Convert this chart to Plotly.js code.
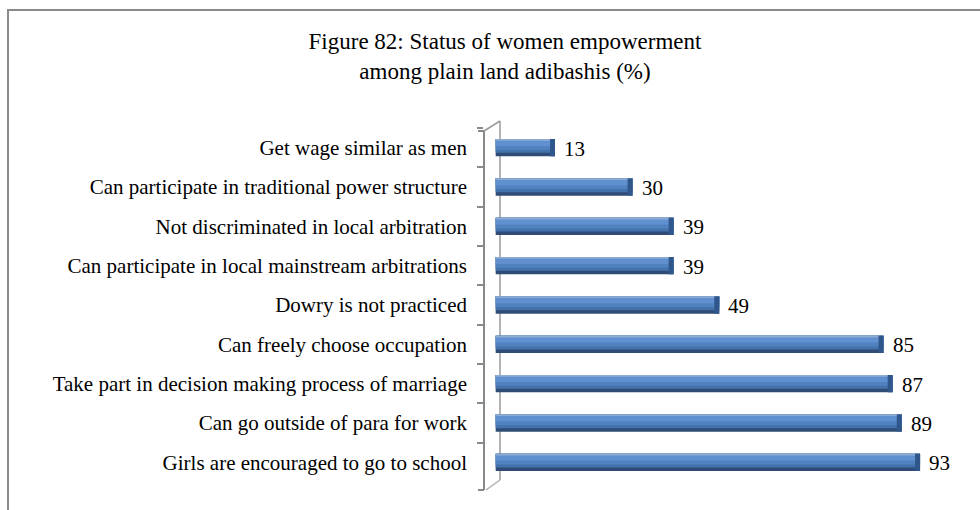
<!DOCTYPE html>
<html>
<head>
<meta charset="utf-8">
<script src="https://cdn.plot.ly/plotly-3.0.1.min.js"></script>
<style>
  html, body { margin: 0; padding: 0; background: #ffffff; }
  #chart { width: 980px; height: 510px; }
</style>
</head>
<body>
<div id="chart"></div>
<script>
// ---- data ----
const categories = [
  "Get wage similar as men",
  "Can participate in traditional power structure",
  "Not discriminated in local arbitration",
  "Can participate in local mainstream arbitrations",
  "Dowry is not practiced",
  "Can freely choose occupation",
  "Take part in decision making process of marriage",
  "Can go outside of para for work",
  "Girls are encouraged to go to school"
];
const values = [13, 30, 39, 39, 49, 85, 87, 89, 93];
const valueLabels = ["13", "30", "39", "39", "49", "85", "87", "89", "93"];
const titleText = "Figure 82: Status of women empowerment<br>among plain land adibashis (%)";

// ---- geometry (pixels) ----
const W = 980, H = 510;
const L = 484, R = 28, T = 128, B = 28;
const PW = W - L - R, PH = H - T - B;
const px = x => (x - L) / PW;          // pixel -> paper x
const py = y => (H - B - y) / PH;      // pixel -> paper y

const font = "'Liberation Serif', 'Times New Roman', Times, serif";
const barW = 0.44, top0 = -barW / 2;
const capLen = 1.1;

function layer(color, off, w, xs, base) {
  const t = {
    type: "bar", orientation: "h",
    y: categories, x: xs,
    marker: { color: color, line: { width: 0 } },
    offset: off, width: w,
    hoverinfo: "skip", showlegend: false
  };
  if (base) t.base = base;
  return t;
}

const traces = [
  layer("#2e4c76", top0, barW, values),
  layer("#4472ad", top0, barW * 0.80, values),
  layer("#5082c0", top0, barW * 0.62, values),
  layer("#6090cf", top0, barW * 0.40, values),
  layer("#8eabd3", top0, barW * 0.10, values),
  layer("#2f578c", top0, barW, values.map(v => capLen), values.map(v => v - capLen))
];

const annotations = categories.map((c, i) => ({
  x: values[i], y: c, xref: "x", yref: "y",
  text: valueLabels[i], showarrow: false,
  xanchor: "left", yanchor: "middle", xshift: 7, yshift: -1,
  font: { family: font, size: 21, color: "#000000" }
}));

const grey = "#8a8a8a";
const shapes = [
  // chart border (left + top visible)
  { type: "rect", xref: "paper", yref: "paper",
    x0: px(8), x1: px(1000), y0: py(10), y1: py(530),
    line: { color: grey, width: 2 }, fillcolor: "rgba(0,0,0,0)", layer: "below" },
  // front wall line
  { type: "line", xref: "paper", yref: "paper",
    x0: px(484), x1: px(484), y0: py(131), y1: py(490),
    line: { color: grey, width: 2 } },
  // top horizontal bracket
  { type: "line", xref: "paper", yref: "paper",
    x0: px(478), x1: px(484), y0: py(131), y1: py(131),
    line: { color: grey, width: 2 } },
  // bottom horizontal bracket
  { type: "line", xref: "paper", yref: "paper",
    x0: px(478), x1: px(484), y0: py(490), y1: py(490),
    line: { color: grey, width: 2 } },
  // back wall line
  { type: "line", xref: "paper", yref: "paper",
    x0: px(500), x1: px(500), y0: py(121), y1: py(480),
    line: { color: "#9a9a9a", width: 1.5 }, layer: "below" },
  // top diagonal
  { type: "line", xref: "paper", yref: "paper",
    x0: px(484), x1: px(500), y0: py(131), y1: py(121),
    line: { color: "#9a9a9a", width: 1.5 } },
  // bottom diagonal
  { type: "line", xref: "paper", yref: "paper",
    x0: px(486), x1: px(500), y0: py(490), y1: py(480),
    line: { color: "#b0b0b0", width: 1.5 } }
];

const layout = {
  width: W, height: H,
  margin: { l: L, r: R, t: T, b: B, pad: 0 },
  paper_bgcolor: "#ffffff", plot_bgcolor: "rgba(0,0,0,0)",
  barmode: "overlay",
  showlegend: false,
  font: { family: font, color: "#000000" },
  title: {
    text: titleText,
    x: 505 / W, xanchor: "center", xref: "container",
    y: 1 - 49 / H, yanchor: "top", yref: "container",
    font: { family: font, size: 23, color: "#000000" }
  },
  xaxis: {
    range: [-2.56, 100], visible: false, fixedrange: true,
    showgrid: false, zeroline: false
  },
  yaxis: {
    type: "category", categoryorder: "array", categoryarray: categories,
    range: [8.5, -0.5],
    showline: false, showgrid: false, zeroline: false,
    ticks: "outside", tickson: "boundaries", ticklen: 6, tickwidth: 2, tickcolor: grey,
    ticklabelstandoff: 16,
    tickfont: { family: font, size: 21, color: "#000000" },
    fixedrange: true
  },
  annotations: annotations,
  shapes: shapes
};

Plotly.newPlot("chart", traces, layout, { displayModeBar: false, staticPlot: true });
</script>
</body>
</html>
